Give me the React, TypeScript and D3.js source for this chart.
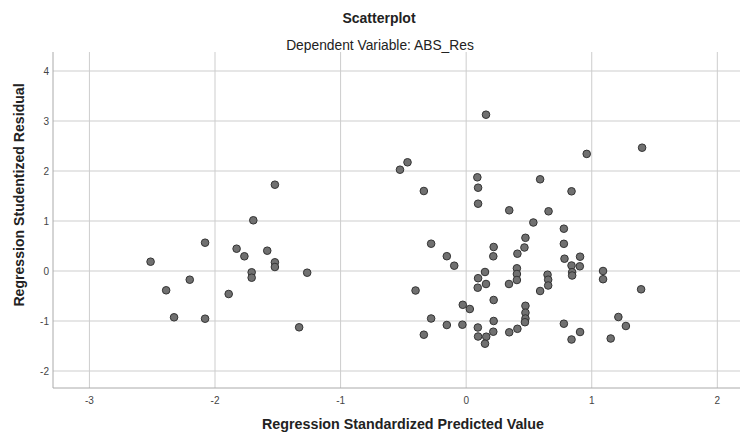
import React, { useEffect, useRef } from 'react';
import * as d3 from 'd3';

// predicted (x) and studentized residual (y)
const predicted = [
  -1.523, -1.695, -2.079, -1.828, -1.766, -1.584, -2.513, -1.523, -1.523, -1.266,
  -1.708, -1.708, -2.201, -2.389, -1.891, -2.326, -2.079, -1.330,
  0.158, -0.467, -0.527, 0.089, 0.095, 0.589, -0.337, 0.095, 0.343, 0.535,
  0.472, 0.464, -0.279, 0.219, 0.216, 0.408, -0.154, -0.095, 0.404, 0.404,
  0.404, 0.150, 0.095, 0.158, 0.341, 0.092, -0.403, 0.589, 0.219, -0.027,
  0.029, 0.472, 0.472, 0.472, 0.468, -0.279, 0.219, -0.154, -0.030, 0.093,
  0.216, 0.343, 0.408, -0.337, 0.095, 0.160, 0.150,
  1.401, 0.960, 0.839, 0.656, 0.778, 0.778, 0.783, 0.907, 0.839, 0.905,
  0.844, 0.844, 0.648, 0.653, 0.653, 1.090, 1.090, 1.393, 1.212, 1.272,
  0.778, 0.907, 0.839, 1.151
];
const residual = [
  1.726, 1.014, 0.566, 0.446, 0.294, 0.406, 0.186, 0.174, 0.080, -0.034,
  -0.026, -0.134, -0.174, -0.386, -0.460, -0.926, -0.954, -1.126,
  3.126, 2.174, 2.026, 1.874, 1.666, 1.834, 1.600, 1.346, 1.214, 0.970,
  0.664, 0.470, 0.546, 0.480, 0.294, 0.346, 0.296, 0.106, 0.054, -0.060,
  -0.180, -0.020, -0.144, -0.260, -0.260, -0.334, -0.390, -0.400, -0.580, -0.676,
  -0.760, -0.696, -0.834, -0.950, -1.024, -0.950, -1.000, -1.080, -1.074, -1.130,
  -1.214, -1.226, -1.156, -1.274, -1.310, -1.314, -1.454,
  2.466, 2.342, 1.594, 1.194, 0.846, 0.544, 0.246, 0.286, 0.110, 0.094,
  -0.024, -0.090, -0.074, -0.174, -0.290, 0.000, -0.164, -0.366, -0.920, -1.100,
  -1.054, -1.220, -1.370, -1.350
];
const xTicks = [-3, -2, -1, 0, 1, 2];
const yTicks = [-2, -1, 0, 1, 2, 3, 4];

const FONT = '"Liberation Sans", Arial, sans-serif';

export default function App() {
  const svgRef = useRef<SVGSVGElement>(null);

  useEffect(() => {
    document.body.style.margin = '0';
    const svg = d3.select(svgRef.current);
    svg.selectAll('*').remove();

    const W = 740, H = 434;
    const left = 53, right = 755, top = 52, bottom = 388;

    svg.attr('width', W).attr('height', H).style('display', 'block').style('background', '#fff');

    const x = d3.scaleLinear().domain([-3.29, 2.3]).range([left, right]);
    const y = d3.scaleLinear().domain([-2.34, 4.38]).range([bottom, top]);

    // titles
    svg.append('text')
      .attr('x', 379).attr('y', 23)
      .attr('text-anchor', 'middle')
      .style('font-family', FONT).style('font-size', '14px').style('font-weight', 'bold')
      .attr('fill', '#222')
      .text('Scatterplot');
    svg.append('text')
      .attr('x', 380).attr('y', 50)
      .attr('text-anchor', 'middle')
      .style('font-family', FONT).style('font-size', '13.8px')
      .attr('fill', '#222')
      .text('Dependent Variable: ABS_Res');

    // grid
    const g = svg.append('g');
    g.selectAll('.gx').data(xTicks).enter().append('line')
      .attr('x1', d => x(d)).attr('x2', d => x(d))
      .attr('y1', top).attr('y2', bottom)
      .attr('stroke', '#cdcdcd').attr('stroke-width', 1);
    g.selectAll('.gy').data(yTicks).enter().append('line')
      .attr('x1', left).attr('x2', right)
      .attr('y1', d => y(d)).attr('y2', d => y(d))
      .attr('stroke', '#cdcdcd').attr('stroke-width', 1);

    // frame (left + bottom)
    g.append('line').attr('x1', left).attr('x2', left).attr('y1', top).attr('y2', bottom)
      .attr('stroke', '#aaa');
    g.append('line').attr('x1', left).attr('x2', right).attr('y1', bottom).attr('y2', bottom)
      .attr('stroke', '#aaa');

    // tick labels
    svg.selectAll('.tx').data(xTicks).enter().append('text')
      .attr('x', d => x(d)).attr('y', 404)
      .attr('text-anchor', 'middle')
      .style('font-family', FONT).style('font-size', '10px')
      .attr('fill', '#444')
      .text(d => String(d));
    svg.selectAll('.ty').data(yTicks).enter().append('text')
      .attr('x', 49).attr('y', d => y(d) + 3.5)
      .attr('text-anchor', 'end')
      .style('font-family', FONT).style('font-size', '10px')
      .attr('fill', '#444')
      .text(d => String(d));

    // axis titles
    svg.append('text')
      .attr('x', 403).attr('y', 429)
      .attr('text-anchor', 'middle')
      .style('font-family', FONT).style('font-size', '14.3px').style('font-weight', 'bold')
      .attr('fill', '#222')
      .text('Regression Standardized Predicted Value');
    svg.append('text')
      .attr('transform', 'translate(24,195) rotate(-90)')
      .attr('text-anchor', 'middle')
      .style('font-family', FONT).style('font-size', '14.1px').style('font-weight', 'bold')
      .attr('fill', '#222')
      .text('Regression Studentized Residual');

    // points
    const pts = predicted.map((p, i) => ({ p, r: residual[i] }));
    svg.append('g').selectAll('circle').data(pts).enter().append('circle')
      .attr('cx', d => x(d.p)).attr('cy', d => y(d.r))
      .attr('r', 3.8)
      .attr('fill', '#707070')
      .attr('stroke', '#333')
      .attr('stroke-width', 1);
  }, []);

  return <svg ref={svgRef} />;
}
